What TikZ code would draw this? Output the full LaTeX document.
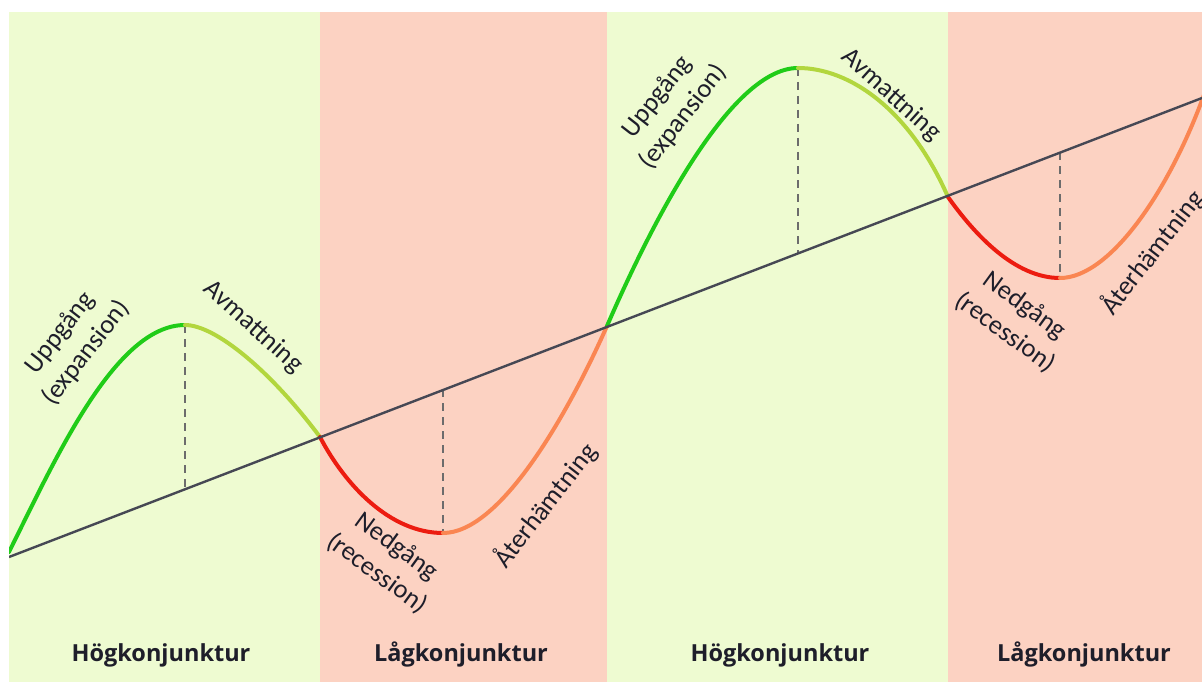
\documentclass[tikz,border=0pt]{standalone}
\usepackage{fontspec}
\setmainfont{Carlito}
\newfontfamily\bandfont{Open Sans}
\definecolor{BoomGreen}{RGB}{238,251,209}
\definecolor{SlumpPink}{RGB}{252,210,194}
\definecolor{RiseGreen}{RGB}{32,204,24}
\definecolor{EaseYellow}{RGB}{178,214,62}
\definecolor{FallRed}{RGB}{236,28,16}
\definecolor{MendOrange}{RGB}{250,134,82}
\definecolor{TrendGray}{RGB}{70,72,84}
\definecolor{InkNavy}{RGB}{30,30,42}
\usepackage{tikz}
\usetikzlibrary{positioning}

\begin{document}
\begin{tikzpicture}[x=1pt, y=-1pt,
	fas/.style={line width=4pt, line cap=round},
	lodrat/.style={dashed, line width=1.8pt, gray!85!black, dash pattern=on 8pt off 6pt},
	etikett/.style={text=InkNavy, align=center, font=\fontsize{26.5}{33}\selectfont},
	period/.style={text=InkNavy, anchor=base, font=\bandfont\bfseries\fontsize{23.5}{28}\selectfont}]
	\useasboundingbox (0,0) rectangle (1202,682);
	\fill[white] (0,0) rectangle (1202,682);
	\fill[BoomGreen] (9,12) rectangle (320,682);
	\fill[SlumpPink] (320,12) rectangle (607,682);
	\fill[BoomGreen] (607,12) rectangle (948,682);
	\fill[SlumpPink] (948,12) rectangle (1202,682);

	\coordinate (start) at (9,552);
	\coordinate (topp1) at (185,325);
	\coordinate (kors1) at (320,437);
	\coordinate (botten1) at (443,533);
	\coordinate (kors2) at (607,326);
	\coordinate (topp2) at (798,68);
	\coordinate (kors3) at (948,197);
	\coordinate (botten2) at (1060,278);
	\coordinate (slut) at (1205,92);
	\coordinate (trendA) at (9,557);
	\coordinate (trendB) at (1202,98);
	\coordinate (bas1) at (185,488);
	\coordinate (bas2) at (443,389);
	\coordinate (bas3) at (798,253);
	\coordinate (bas4) at (1060,152);

	\draw[lodrat] (topp1) -- (bas1);
	\draw[lodrat] (bas2) -- (botten1);
	\draw[lodrat] (topp2) -- (bas3);
	\draw[lodrat] (bas4) -- (botten2);

	\begin{scope}
		\clip (9,12) rectangle (1202,682);
		\draw[fas, RiseGreen] (start) .. controls (55,460) and (115,325) .. (topp1);
		\draw[fas, EaseYellow] (topp1) .. controls (215,325) and (270,370) .. (kors1);
		\draw[fas, FallRed] (kors1) .. controls (345,485) and (390,533) .. (botten1);
		\draw[fas, MendOrange] (botten1) .. controls (500,533) and (567,416) .. (kors2);
		\draw[fas, RiseGreen] (kors2) .. controls (640,250) and (725,68) .. (topp2);
		\draw[fas, EaseYellow] (topp2) .. controls (850,68) and (910,110) .. (kors3);
		\draw[fas, FallRed] (kors3) .. controls (975,235) and (1015,278) .. (botten2);
		\draw[fas, MendOrange] (botten2) .. controls (1110,278) and (1170,190) .. (slut);
		\draw[line width=2.4pt, TrendGray] (trendA) -- (trendB);

		\node[etikett, rotate=52] (upp1) at (73,343) {Uppgång\\(expansion)};
		\node[etikett, rotate=-42] (avm1) at (253,327) {Avmattning};
		\node[etikett, rotate=-36] (ned1) at (387,560) {Nedgång\\(recession)};
		\node[etikett, rotate=52] (ater1) at (545,505) {Återhämtning};
		\node[etikett, rotate=52] (upp2) at (670,107) {Uppgång\\(expansion)};
		\node[etikett, rotate=-42] (avm2) at (891,95) {Avmattning};
		\node[etikett, rotate=-36] (ned2) at (1015,319) {Nedgång\\(recession)};
		\node[etikett, rotate=52] (ater2) at (1152,252) {Återhämtning};
	\end{scope}

	\node[period] (hog1) at (161,661) {Högkonjunktur};
	\node[period] (lag1) at (461,661) {Lågkonjunktur};
	\node[period] (hog2) at (780,661) {Högkonjunktur};
	\node[period] (lag2) at (1084,661) {Lågkonjunktur};
\end{tikzpicture}
\end{document}
